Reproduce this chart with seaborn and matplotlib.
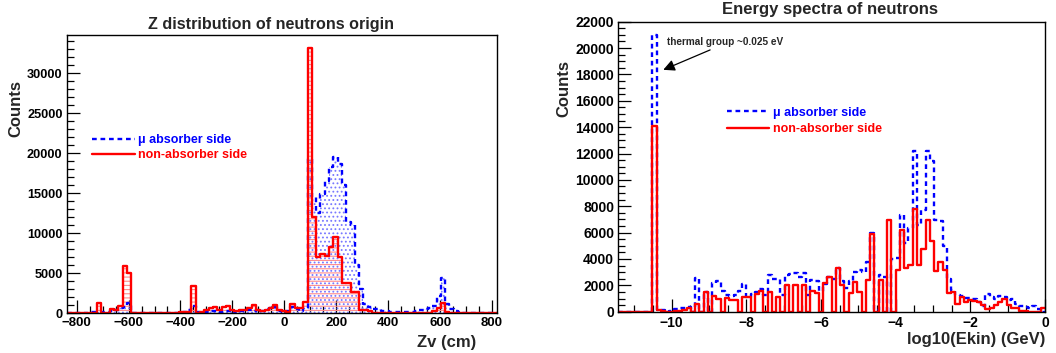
import numpy as np
import pandas as pd
import matplotlib
matplotlib.use("Agg")
import matplotlib.pyplot as plt
import seaborn as sns
from matplotlib.ticker import MultipleLocator
from matplotlib.lines import Line2D

# ---------------- data: Z distribution (100 bins) ----------------
z_range = (-838.0, 818.0)
z_absorber = [0, 0, 0, 0, 0, 100, 150, 200, 100, 150,
              300, 400, 700, 800, 1300, 30, 30, 30, 30, 30,
              30, 30, 30, 30, 30, 30, 30, 100, 400, 950,
              100, 100, 150, 250, 300, 200, 300, 250, 350, 200,
              300, 250, 400, 300, 400, 300, 500, 600, 800, 300,
              200, 250, 800, 500, 300, 600, 19300, 14600, 12600, 14900,
              16600, 18300, 19600, 18700, 16000, 11400, 11000, 6000, 3000, 1200,
              750, 550, 500, 330, 300, 200, 150, 100, 100, 150,
              200, 300, 400, 500, 600, 900, 2200, 4400, 1200, 500,
              300, 100, 0, 0, 0, 0, 0, 0, 0, 0]
z_nonabsorber = [0, 0, 0, 0, 0, 0, 0, 1260, 50, 0,
                 480, 400, 880, 5960, 5080, 0, 0, 0, 0, 0,
                 0, 0, 0, 0, 0, 0, 150, 150, 100, 3450,
                 0, 100, 350, 600, 750, 450, 750, 900, 400, 300,
                 450, 350, 650, 1000, 350, 250, 450, 700, 1050, 350,
                 250, 200, 1100, 600, 600, 1400, 33150, 12000, 7100, 7400,
                 7200, 8350, 9500, 7000, 3750, 3750, 2600, 2600, 450, 450,
                 250, 50, 50, 50, 50, 50, 50, 50, 50, 50,
                 50, 50, 50, 50, 50, 300, 600, 1300, 200, 80,
                 80, 80, 80, 0, 0, 0, 0, 0, 0, 0]

# ---------------- data: energy spectra (100 bins) ----------------
e_range = (-11.43, 0.0)
e_absorber = [0, 0, 0, 0, 0, 0, 0, 0, 21000, 150,
              100, 0, 50, 200, 250, 250, 350, 0, 2550, 0,
              1500, 0, 2200, 2300, 1600, 1300, 1200, 1300, 1600, 2100,
              1100, 1350, 1500, 1750, 1300, 2800, 2500, 2500, 1300, 2800,
              2850, 2900, 2600, 2900, 1300, 2400, 2300, 1600, 2100, 2600,
              2500, 3290, 2300, 1800, 2300, 3000, 3200, 3000, 3800, 5950,
              100, 2800, 2600, 0, 4000, 4100, 7340, 5190, 6330, 12200,
              6580, 7720, 12200, 11400, 6960, 6900, 5000, 2450, 1650, 1265,
              1200, 1060, 1010, 950, 760, 450, 1340, 1140, 950, 1210,
              1100, 885, 940, 600, 450, 380, 300, 450, 200, 0]
e_nonabsorber = [0, 0, 0, 0, 0, 0, 0, 0, 14100, 120,
                 60, 0, 0, 30, 60, 150, 250, 0, 620, 0,
                 1520, 0, 1220, 930, 0, 1050, 900, 920, 0, 1110,
                 1110, 0, 1380, 1540, 0, 1530, 0, 1100, 0, 2000,
                 0, 2000, 0, 2000, 0, 1600, 1450, 0, 2200, 2600,
                 0, 3290, 2000, 0, 1390, 2280, 1500, 0, 2400, 5870,
                 0, 2400, 0, 6960, 0, 3160, 6200, 3290, 3540, 7790,
                 3540, 4750, 6960, 5400, 3110, 3800, 3160, 1450, 1500, 580,
                 1090, 760, 885, 810, 760, 500, 180, 250, 500, 760,
                 960, 500, 250, 250, 80, 80, 0, 0, 0, 250]

series_labels = ["\u03bc absorber side", "non-absorber side"]
titles = ["Z distribution of neutrons origin", "Energy spectra of neutrons"]
xlabels = ["Zv (cm)", "log10(Ekin) (GeV)"]
annotation = "thermal group ~0.025 eV"

BLUE = "#0000ff"
RED = "#ff0000"

sns.set_theme(style="ticks")
plt.rcParams["font.family"] = ["Liberation Sans", "DejaVu Sans"]
plt.rcParams["font.weight"] = "bold"
plt.rcParams["hatch.linewidth"] = 0.8


def make_df(rng, vals):
    edges = np.linspace(rng[0], rng[1], len(vals) + 1)
    centers = 0.5 * (edges[:-1] + edges[1:])
    return pd.DataFrame({"x": centers, "w": vals}), [float(e) for e in edges]


def step(ax, rng, vals, color, ls, lw=1.7):
    df, edges = make_df(rng, vals)
    sns.histplot(data=df, x="x", weights="w", bins=edges, element="step",
                 fill=False, color=color, linestyle=ls, linewidth=lw, ax=ax)
    return ax.lines[-1]


def hatched(ax, rng, vals, color, hatch):
    df, edges = make_df(rng, vals)
    n0 = len(ax.collections)
    sns.histplot(data=df, x="x", weights="w", bins=edges, element="step",
                 fill=True, color=color, ax=ax)
    for coll in ax.collections[n0:]:
        coll.set_facecolor("none")
        coll.set_edgecolor(color)
        coll.set_linewidth(0)
        coll.set_hatch(hatch)
        coll.set_alpha(1.0)


fig = plt.figure(figsize=(10.56, 3.53), dpi=100)
ax1 = fig.add_axes([0.0632, 0.1125, 0.4072, 0.7884])
ax2 = fig.add_axes([0.5855, 0.117, 0.4041, 0.8215])

# ---- left panel ----
hatched(ax1, z_range, z_absorber, "#7878ff", "....")
hatched(ax1, z_range, z_nonabsorber, "#ff8c8c", "----")
step(ax1, z_range, z_absorber, BLUE, (0, (2.0, 1.6)))
step(ax1, z_range, z_nonabsorber, RED, "-")
ax1.set_xlim(*z_range)
ax1.set_ylim(0, 34800)
ax1.xaxis.set_major_locator(MultipleLocator(200))
ax1.xaxis.set_minor_locator(MultipleLocator(50))
ax1.yaxis.set_major_locator(MultipleLocator(5000))
ax1.yaxis.set_minor_locator(MultipleLocator(1000))

# ---- right panel ----
step(ax2, e_range, e_absorber, BLUE, (0, (2.0, 1.6)))
step(ax2, e_range, e_nonabsorber, RED, "-")
ax2.set_xlim(*e_range)
ax2.set_ylim(0, 22000)
ax2.xaxis.set_major_locator(MultipleLocator(2))
ax2.xaxis.set_minor_locator(MultipleLocator(0.5))
ax2.yaxis.set_major_locator(MultipleLocator(2000))
ax2.yaxis.set_minor_locator(MultipleLocator(500))

for ax in (ax1, ax2):
    for s in ax.spines.values():
        s.set_visible(True)
        s.set_color("black")
        s.set_linewidth(1.0)
    ax.tick_params(which="both", direction="in", top=False, right=False,
                   colors="black", labelsize=9.5, width=0.9)
    ax.tick_params(which="major", length=9.5, pad=3)
    ax.tick_params(which="minor", length=4.8)
    for lab in ax.get_xticklabels() + ax.get_yticklabels():
        lab.set_fontweight("bold")
    ax.grid(False)
    ax.set_facecolor("white")

ax1.tick_params(axis="y", labelsize=9.2)
ax2.tick_params(axis="y", labelsize=10)
ax2.tick_params(axis="x", labelsize=10)

# titles
ax1.set_title(titles[0], fontsize=11.6, fontweight="bold", x=0.475, pad=4.2)
ax2.set_title(titles[1], fontsize=12, fontweight="bold", x=0.495, pad=5.3)

# axis labels
ax1.set_ylabel("Counts", fontsize=12, fontweight="bold", ha="right")
ax1.yaxis.set_label_coords(-0.102, 0.838)
ax1.set_xlabel(xlabels[0], fontsize=12, fontweight="bold", ha="right")
ax1.xaxis.set_label_coords(0.952, -0.078)
ax2.set_ylabel("Counts", fontsize=12, fontweight="bold", ha="right")
ax2.yaxis.set_label_coords(-0.111, 0.868)
ax2.set_xlabel(xlabels[1], fontsize=12, fontweight="bold", ha="right")
ax2.xaxis.set_label_coords(1.0, -0.069)


def legend(ax, anchor, spacing):
    handles = [Line2D([], [], color=BLUE, lw=1.7, ls=(0, (2.0, 1.6))),
               Line2D([], [], color=RED, lw=1.7, ls="-")]
    ax.legend(handles, series_labels, loc="upper left", bbox_to_anchor=anchor,
              frameon=False, handlelength=3.4, handletextpad=0.3,
              labelspacing=spacing, borderpad=0, borderaxespad=0,
              labelcolor=[BLUE, RED],
              prop={"weight": "bold", "size": 9})


legend(ax1, (0.059, 0.6425), 0.2)
legend(ax2, (0.2547, 0.7076), 0.37)

# annotation text and arrow
ax2.text(-10.13, 20470, annotation, fontsize=7.2, fontweight="bold",
         ha="left", va="center")
ax2.annotate("", xy=(-10.225, 18350), xytext=(-8.97, 19860),
             arrowprops=dict(arrowstyle="-|>", color="black", lw=0.9,
                             mutation_scale=17, shrinkA=0, shrinkB=0))

fig.savefig("out.png", dpi=100, facecolor="white")
